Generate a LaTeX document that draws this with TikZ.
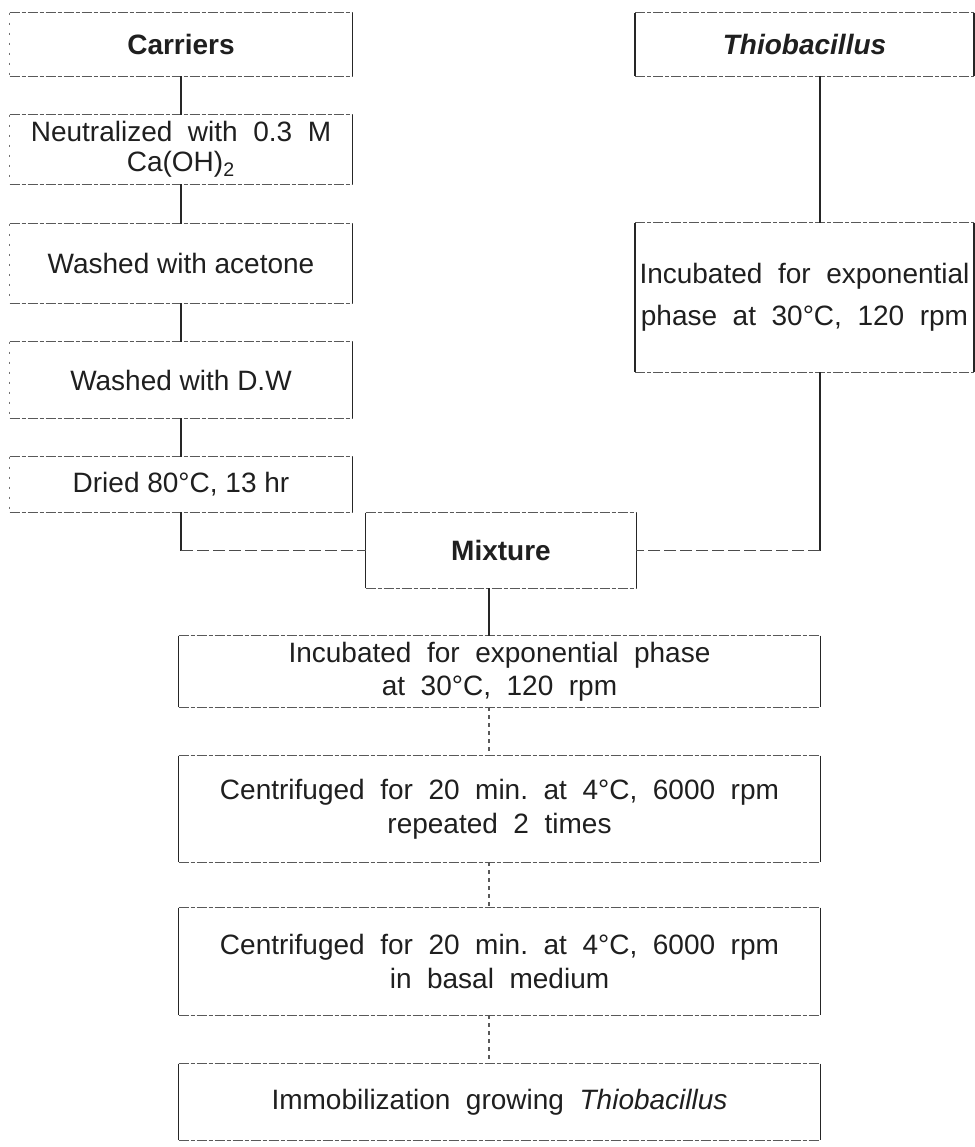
\documentclass[tikz,border=0pt]{standalone}
\usepackage{fontspec}
\setmainfont{Liberation Sans}
\newcommand\frameit[2]{%
  \draw[hedge] (#1.north west) -- (#1.north east);
  \draw[hedge] (#1.south west) -- (#1.south east);
  \draw[redge] (#1.north east) -- (#1.south east);
  \draw[#2] (#1.north west) -- (#1.south west);
}
\begin{document}
\begin{tikzpicture}[x=0.5pt,y=-0.5pt,
  box/.style={inner sep=0pt, align=center, text=black!88},
  fs/.style={font=\fontsize{14}{#1}\selectfont},
  hedge/.style={line width=0.6pt, dash pattern=on 5pt off 1pt on 2pt off 1pt, black!65},
  redge/.style={line width=0.8pt, black!85},
  ledge/.style={line width=0.5pt, dash pattern=on 1pt off 4pt, black!55},
  sedge/.style={line width=0.8pt, black!85},
  conn/.style={line width=0.8pt, black!85},
  hconn/.style={line width=0.6pt, dash pattern=on 6pt off 2pt, black!70},
  dconn/.style={line width=0.6pt, dash pattern=on 2pt off 2pt, black!65}]
\useasboundingbox (0,0) rectangle (975,1147);
\fill[white] (0,0) rectangle (975,1147);
\coordinate (rx) at (820,0);
\coordinate (mx) at (489,0);
% left column
\node[box, fs=17, minimum width=171pt, minimum height=31.5pt] (carriers) at (181,44.5) {\textbf{Carriers}};
\node[box, fs=15, minimum width=171pt, minimum height=34.5pt] (neutral) at (181,149.5) {Neutralized\ \ with\ \ 0.3\ \ M\\Ca(OH)\textsubscript{2}};
\node[box, fs=17, minimum width=171pt, minimum height=39.5pt] (acetone) at (181,263.5) {Washed with acetone};
\node[box, fs=17, minimum width=171pt, minimum height=38pt] (dw) at (181,380) {Washed with D.W};
\node[box, fs=17, minimum width=171pt, minimum height=27.5pt] (dried) at (181,484.5) {Dried 80°C, 13 hr};
% right column
\node[box, fs=17, minimum width=169pt, minimum height=31.5pt] (thio) at (804.5,44.5) {\textbf{\textit{Thiobacillus}}};
\node[box, fs=21, minimum width=169pt, minimum height=74.5pt] (incR) at (804.5,297.5) {Incubated\ \ for\ \ exponential\\phase\ \ at\ \ 30°C,\ \ 120\ \ rpm};
% centre
\node[box, fs=17, minimum width=135pt, minimum height=37.5pt] (mixture) at (501,550.5) {\textbf{Mixture}};
\node[box, fs=16.5, minimum width=320.5pt, minimum height=35.5pt] (inc) at (499.5,671.5) {Incubated\ \ for\ \ exponential\ \ phase\\at\ \ 30°C,\ \ 120\ \ rpm};
\node[box, fs=17, minimum width=320.5pt, minimum height=53pt] (c1) at (499.5,809) {Centrifuged\ \ for\ \ 20\ \ min.\ \ at\ \ 4°C,\ \ 6000\ \ rpm\\repeated\ \ 2\ \ times};
\node[box, fs=17, minimum width=320.5pt, minimum height=53.5pt] (c2) at (499.5,961.5) {Centrifuged\ \ for\ \ 20\ \ min.\ \ at\ \ 4°C,\ \ 6000\ \ rpm\\in\ \ basal\ \ medium};
\node[box, fs=17, minimum width=320.5pt, minimum height=38pt] (imm) at (499.5,1102) {Immobilization\ \ growing\ \ \textit{Thiobacillus}};
% frames
\frameit{carriers}{ledge}
\frameit{neutral}{ledge}
\frameit{acetone}{ledge}
\frameit{dw}{ledge}
\frameit{dried}{ledge}
\frameit{thio}{sedge}
\frameit{incR}{sedge}
\frameit{mixture}{sedge}
\frameit{inc}{sedge}
\frameit{c1}{sedge}
\frameit{c2}{sedge}
\frameit{imm}{sedge}
% connectors
\draw[conn] (carriers.south) -- (neutral.north);
\draw[conn] (neutral.south) -- (acetone.north);
\draw[conn] (acetone.south) -- (dw.north);
\draw[conn] (dw.south) -- (dried.north);
\draw[conn] (dried.south) -- (dried.south |- mixture.west);
\draw[hconn] (dried.south |- mixture.west) -- (mixture.west);
\draw[conn] (thio.south -| rx) -- (incR.north -| rx);
\draw[conn] (incR.south -| rx) -- (mixture.east -| rx);
\draw[hconn] (mixture.east -| rx) -- (mixture.east);
\draw[conn] (mixture.south -| mx) -- (inc.north -| mx);
\draw[dconn] (inc.south -| mx) -- (c1.north -| mx);
\draw[dconn] (c1.south -| mx) -- (c2.north -| mx);
\draw[dconn] (c2.south -| mx) -- (imm.north -| mx);
\end{tikzpicture}
\end{document}
